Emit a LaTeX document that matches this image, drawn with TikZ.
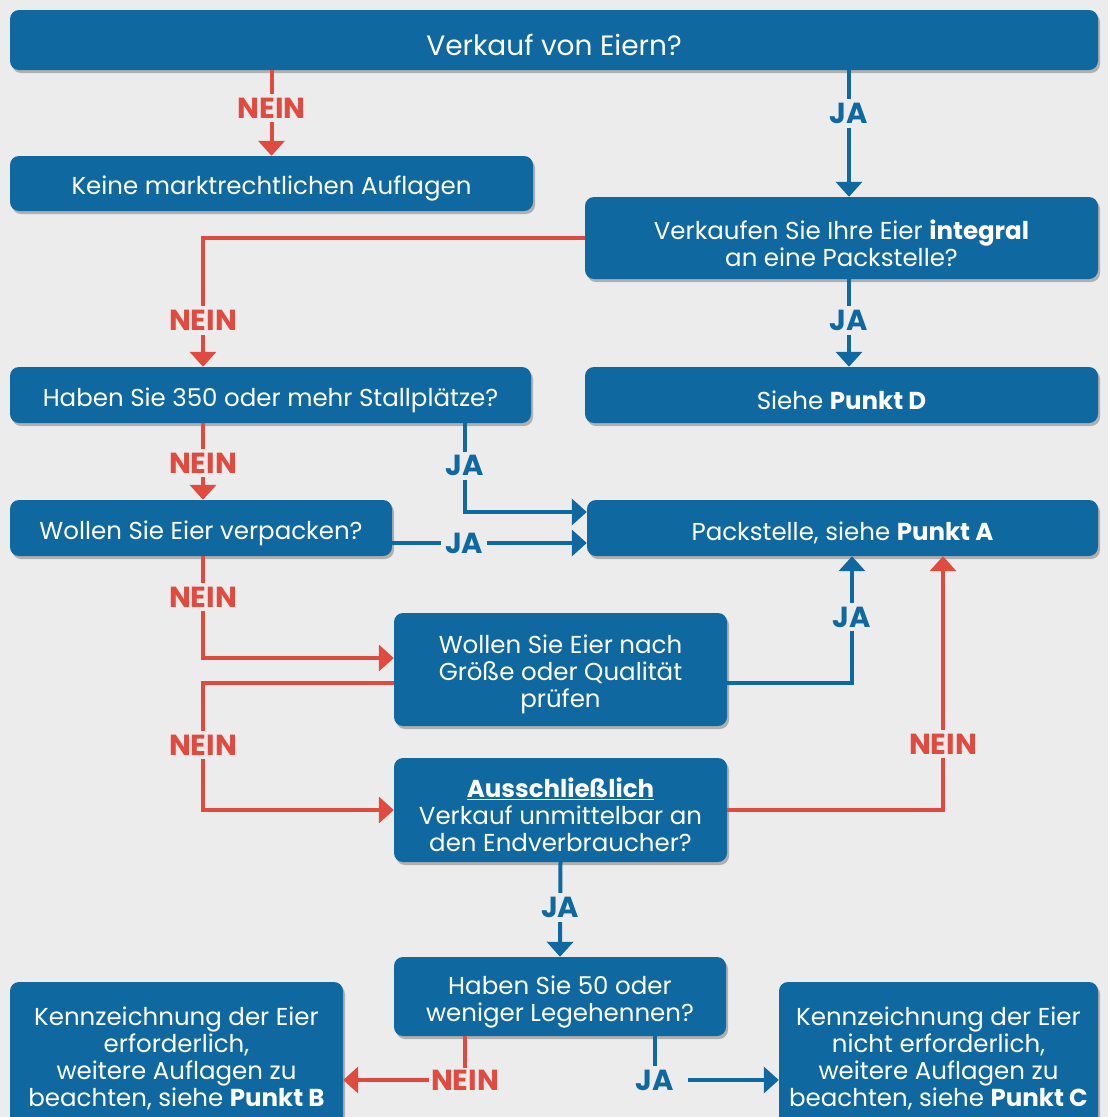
\documentclass[tikz,border=0pt]{standalone}
\usepackage{fontspec}
\setmainfont{Poppins}
\usetikzlibrary{arrows.meta,shadows}
\definecolor{bl}{HTML}{0F68A0}
\definecolor{rd}{HTML}{E04A3F}
\definecolor{bg}{HTML}{ECECEC}
\tikzset{
  box/.style={fill=bl, rounded corners=9pt, inner sep=0pt,
    drop shadow={shadow xshift=2pt, shadow yshift=-3pt, opacity=0.25, fill=black}},
  txt/.style={text=white, align=center, inner sep=0pt, font=\fontsize{24.5}{27}\selectfont},
  conn/.style={line width=4pt},
  rarr/.style={conn, draw=rd, -{Triangle[width=26pt,length=15pt]}},
  barr/.style={conn, draw=bl, -{Triangle[width=26pt,length=15pt]}},
  lab/.style={fill=bg, inner sep=4pt, font=\fontsize{29}{29}\selectfont\bfseries},
  rlab/.style={lab, text=rd},
  blab/.style={lab, text=bl}
}
\newcommand\boxtxt[3][]{\node[txt,#1] (#2-t) at ([yshift=-5pt]#2.center) {#3};}
\begin{document}
\begin{tikzpicture}[x=1pt,y=-1pt]
\clip (0,0) rectangle (1108,1117);
\fill[bg] (0,0) rectangle (1108,1117);
\useasboundingbox (0,0) rectangle (1108,1117);

% boxes
\node[box, minimum width=1088pt, minimum height=60pt] (top) at (554,40) {};
\node[box, minimum width=523pt, minimum height=55pt] (keine) at (271.5,183.5) {};
\node[box, minimum width=513pt, minimum height=82pt] (ver) at (841.5,238) {};
\node[box, minimum width=521pt, minimum height=56pt] (h350) at (270.5,395) {};
\node[box, minimum width=513pt, minimum height=56pt] (sd) at (841.5,395) {};
\node[box, minimum width=382pt, minimum height=56pt] (wv) at (201,528) {};
\node[box, minimum width=511pt, minimum height=56pt] (pa) at (842.5,528) {};
\node[box, minimum width=333pt, minimum height=113pt] (gr) at (560.5,669.5) {};
\node[box, minimum width=333pt, minimum height=104pt] (au) at (560.5,810) {};
\node[box, minimum width=332pt, minimum height=79pt] (h50) at (560,996.5) {};
\node[box, minimum width=333pt, minimum height=143pt] (kl) at (176.5,1053.5) {};
\node[box, minimum width=319pt, minimum height=143pt] (kr) at (938.5,1053.5) {};

% box texts
\boxtxt[font=\fontsize{28}{30}\selectfont]{top}{Verkauf von Eiern?}
\boxtxt{keine}{Keine marktrechtlichen Auflagen}
\boxtxt{ver}{Verkaufen Sie Ihre Eier \textbf{integral}\\an eine Packstelle?}
\boxtxt{h350}{Haben Sie 350 oder mehr Stallplätze?}
\boxtxt{sd}{Siehe \textbf{Punkt D}}
\boxtxt{wv}{Wollen Sie Eier verpacken?}
\boxtxt{pa}{Packstelle, siehe \textbf{Punkt A}}
\boxtxt{gr}{Wollen Sie Eier nach\\Größe oder Qualität\\prüfen}
\boxtxt{au}{\underline{\textbf{Ausschließlich}}\\Verkauf unmittelbar an\\den Endverbraucher?}
\boxtxt{h50}{Haben Sie 50 oder\\weniger Legehennen?}
\boxtxt{kl}{Kennzeichnung der Eier\\erforderlich,\\weitere Auflagen zu\\beachten, siehe \textbf{Punkt B}}
\boxtxt{kr}{Kennzeichnung der Eier\\nicht erforderlich,\\weitere Auflagen zu\\beachten, siehe \textbf{Punkt C}}

% helper coordinates
\coordinate (xj) at (849,0);
\coordinate (xa) at (203,0);
\coordinate (xb) at (465,0);
\coordinate (xc) at (852,0);
\coordinate (xd) at (943,0);
\coordinate (xf) at (655,0);
\coordinate (ya) at (0,512);
\coordinate (yb) at (0,543);
\coordinate (yc) at (0,658);
\coordinate (yd) at (0,683);
\coordinate (yf) at (0,1080);

% connectors
\draw[rarr] (top.south -| keine.north) -- node[rlab, pos=0.44]{NEIN} (keine.north);
\draw[barr] (top.south -| xj) -- node[blab, pos=0.34]{JA} (ver.north -| xj);
\draw[rarr] (ver.west) -| node[rlab, pos=0.82]{NEIN} (h350.north -| xa);
\draw[barr] (ver.south -| xj) -- node[blab, pos=0.47]{JA} (sd.north -| xj);
\draw[rarr] (h350.south -| xa) -- node[rlab, pos=0.52]{NEIN} (wv.north -| xa);
\draw[barr] (h350.south -| xb) |- node[blab, pos=0.24]{JA} (pa.west |- ya);
\draw[barr] (wv.east |- yb) -- node[blab, pos=0.37]{JA} (pa.west |- yb);
\draw[rarr] (wv.south -| xa) |- node[rlab, pos=0.2]{NEIN} (gr.west |- yc);
\draw[rarr] (gr.west |- yd) -- (xa |- yd) -- node[rlab, pos=0.49]{NEIN} (xa |- au.west) -- (au.west);
\draw[barr] (gr.east |- yd) -| node[blab, pos=0.76]{JA} (xc |- pa.south);
\draw[rarr] (au.east) -| node[rlab, pos=0.63]{NEIN} (xd |- pa.south);
\draw[barr] (au.south) -- node[blab, pos=0.48]{JA} (h50.north);
\draw[rarr] (h50.south -| xb) |- node[rlab, pos=0.5, inner sep=2pt]{NEIN} (kl.east |- yf);
\draw[barr] (h50.south -| xf) |- node[blab, pos=0.5, inner xsep=14pt]{JA} (kr.west |- yf);
\end{tikzpicture}
\end{document}
